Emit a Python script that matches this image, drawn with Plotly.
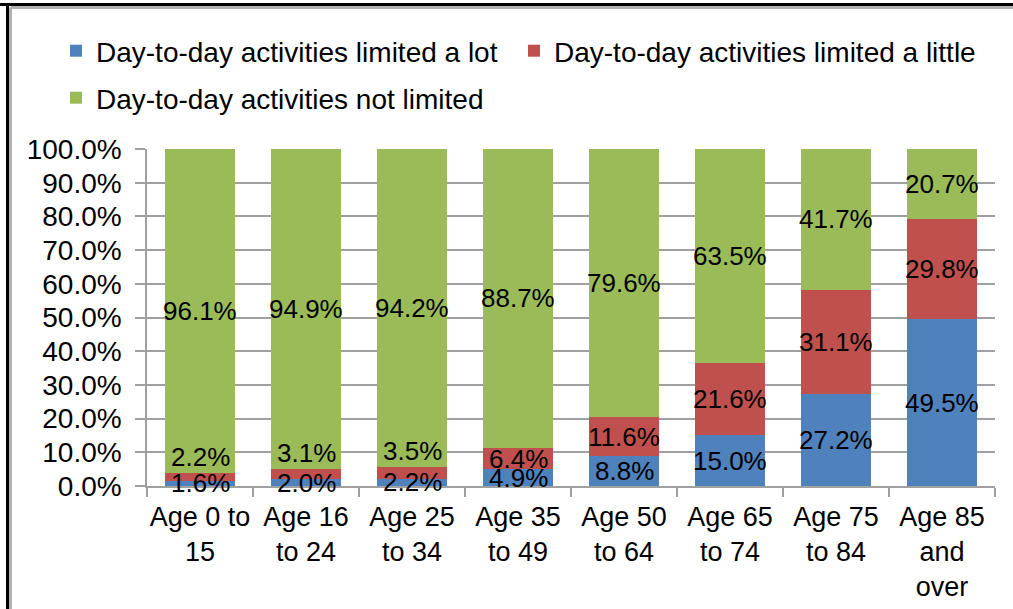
import plotly.graph_objects as go

# --- dados ---
categorias = ['Age 0 to<br>15', 'Age 16<br>to 24', 'Age 25<br>to 34', 'Age 35<br>to 49',
              'Age 50<br>to 64', 'Age 65<br>to 74', 'Age 75<br>to 84', 'Age 85<br>and<br>over']
limitado_muito = [1.6, 2.0, 2.2, 4.9, 8.8, 15.0, 27.2, 49.5]
limitado_pouco = [2.2, 3.1, 3.5, 6.4, 11.6, 21.6, 31.1, 29.8]
nao_limitado = [96.1, 94.9, 94.2, 88.7, 79.6, 63.5, 41.7, 20.7]

series = [
    ('Day-to-day activities limited a lot', limitado_muito, '#4F81BD'),
    ('Day-to-day activities limited a little', limitado_pouco, '#C0504D'),
    ('Day-to-day activities not limited', nao_limitado, '#9BBB59'),
]

W, H = 1013, 609
L, R, T, B = 147, 18, 149, 123
FONTE = 'Liberation Sans, Arial, sans-serif'

# posição de cada legenda (px da janela)
legendas = [('legend', 56, 51), ('legend2', 514, 51), ('legend3', 56, 98)]

fig = go.Figure()
for (nome, valores, cor), (leg, lx, ly) in zip(series, legendas):
    fig.add_trace(go.Bar(
        x=categorias,
        y=[v / 100 for v in valores],
        name=nome,
        marker_color=cor,
        marker_line_width=0,
        legend=leg,
        showlegend=True,
    ))
    fig.update_layout({leg: dict(orientation='h', xref='container', yref='container',
                                 x=lx / W, y=1 - ly / H, xanchor='left', yanchor='middle',
                                 font=dict(size=28, color='black'),
                                 bgcolor='rgba(0,0,0,0)')})

# rótulos de dados (centralizados; segmento pequeno do meio vai para cima)
base = [0.0] * len(categorias)
for i, (nome, valores, cor) in enumerate(series):
    for j, v in enumerate(valores):
        v = v / 100
        if i == 1 and v < 0.05:
            y, anchor = base[j] + v, 'bottom'
        else:
            y, anchor = base[j] + v / 2, 'middle'
        fig.add_annotation(x=categorias[j], y=y, yanchor=anchor,
                           text=f'{v*100:.1f}%', showarrow=False,
                           font=dict(size=26, color='black', family=FONTE),
                           borderpad=0)
        base[j] += v

# moldura
def px_x(px):
    return (px - L) / (W - L - R)

def px_y(py):
    return (H - B - py) / (H - T - B)

fig.add_shape(type='line', xref='paper', yref='paper', x0=px_x(10.5), x1=px_x(W + 2),
              y0=px_y(7.5), y1=px_y(7.5), line=dict(color='#B0B0B0', width=3))
fig.add_shape(type='line', xref='paper', yref='paper', x0=px_x(10.5), x1=px_x(10.5),
              y0=px_y(7.5), y1=px_y(H + 5), line=dict(color='#B0B0B0', width=3))
fig.add_shape(type='line', xref='paper', yref='paper', x0=px_x(-2), x1=px_x(W + 2),
              y0=px_y(4.5), y1=px_y(4.5), line=dict(color='black', width=3))
fig.add_shape(type='line', xref='paper', yref='paper', x0=px_x(7.5), x1=px_x(7.5),
              y0=px_y(4), y1=px_y(H + 5), line=dict(color='black', width=3))

fig.update_layout(
    width=W, height=H,
    showlegend=True,
    barmode='stack',
    bargap=0.345,
    plot_bgcolor='white',
    paper_bgcolor='white',
    margin=dict(l=L, r=R, t=T, b=B, autoexpand=False),
    font=dict(family=FONTE, size=27, color='black'),
    xaxis=dict(showgrid=False, showline=True, linecolor='#A0A0A0', linewidth=1.5,
               ticks='outside', tickson='boundaries', ticklen=9, tickcolor='#A0A0A0',
               tickwidth=1.5, tickfont=dict(size=27, color='black'), tickangle=0,
               ticklabelstandoff=6, automargin=False),
    yaxis=dict(range=[0, 1], dtick=0.1, tickformat='.1%', showgrid=True,
               gridcolor='#A0A0A0', gridwidth=1.5, showline=True, linecolor='#A0A0A0',
               linewidth=1.5, ticks='outside', ticklen=10, tickcolor='#A0A0A0',
               tickwidth=1.5, zeroline=False, ticklabelstandoff=8,
               tickfont=dict(size=28, color='black'), automargin=False),
)

# tira a margem padrão do body para a figura começar no canto da janela
fig.write_html('out.html', config={'displayModeBar': False},
               post_script="document.body.style.margin='0';")
